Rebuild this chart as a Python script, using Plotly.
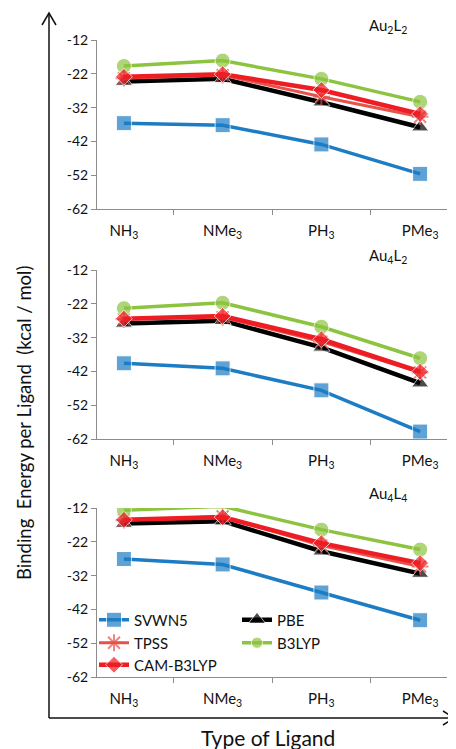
import plotly.graph_objects as go

W, H = 456, 749
OFF = 8  # page body margin offset of the rendered figure

ligands = ["NH<sub>3</sub>", "NMe<sub>3</sub>", "PH<sub>3</sub>", "PMe<sub>3</sub>"]
methods = ["SVWN5", "PBE", "TPSS", "B3LYP", "CAM-B3LYP"]
panel_titles = ["Au<sub>2</sub>L<sub>2</sub>", "Au<sub>4</sub>L<sub>2</sub>", "Au<sub>4</sub>L<sub>4</sub>"]

# Au2L2
au2l2_svwn5 = [-36.6, -37.2, -42.9, -51.6]
au2l2_pbe = [-24.3, -23.5, -30.4, -37.8]
au2l2_tpss = [-23.3, -22.4, -28.8, -34.7]
au2l2_b3lyp = [-19.7, -18.1, -23.5, -30.3]
au2l2_cam = [-22.9, -22.1, -26.8, -33.9]
# Au4L2
au4l2_svwn5 = [-39.6, -41.1, -47.6, -59.8]
au4l2_pbe = [-27.8, -27.0, -34.9, -45.5]
au4l2_tpss = [-26.6, -26.0, -33.2, -42.3]
au4l2_b3lyp = [-23.3, -21.7, -28.8, -38.1]
au4l2_cam = [-26.4, -25.6, -32.5, -42.1]
# Au4L4
au4l4_svwn5 = [-27.1, -28.7, -37.0, -45.2]
au4l4_pbe = [-16.6, -15.9, -24.8, -31.4]
au4l4_tpss = [-15.6, -14.5, -23.1, -29.3]
au4l4_b3lyp = [-12.7, -11.5, -18.4, -24.3]
au4l4_cam = [-15.5, -14.7, -22.4, -28.3]

y_ticks = [-62, -52, -42, -32, -22, -12]
y_min, y_max = -62, -12

panels = [
    [au2l2_svwn5, au2l2_pbe, au2l2_tpss, au2l2_b3lyp, au2l2_cam],
    [au4l2_svwn5, au4l2_pbe, au4l2_tpss, au4l2_b3lyp, au4l2_cam],
    [au4l4_svwn5, au4l4_pbe, au4l4_tpss, au4l4_b3lyp, au4l4_cam],
]

styles = {
    "SVWN5": dict(color="#1C7CC4", width=3.5, symbol="square", size=15, legend="legend"),
    "PBE": dict(color="#000000", width=4.5, symbol="triangle-up", size=15, legend="legend"),
    "TPSS": dict(color="#E5534B", width=3, symbol="asterisk-open", size=14, legend="legend2"),
    "B3LYP": dict(color="#8CC43F", width=3.5, symbol="circle", size=15, legend="legend2"),
    "CAM-B3LYP": dict(color="#EE1D23", width=4.5, symbol="diamond", size=13, legend="legend3"),
}

def px2x(px):
    return (px - OFF) / W

def px2y(py):
    return 1 - (py - OFF) / H

# panel pixel bounds (top, bottom) in screen pixels
bounds = [(40, 209), (270, 439), (508, 677)]
x_dom = [px2x(97), px2x(447)]

fig = go.Figure()
font = "Lato, 'Open Sans', sans-serif"

for i, series in enumerate(panels):
    yax = "y" if i == 0 else f"y{i+1}"
    xax = "x" if i == 0 else f"x{i+1}"
    for m, vals in zip(methods, series):
        s = styles[m]
        # points outside the axis range are not marked (as in the original chart)
        sizes = [s["size"] if y_min <= v <= y_max else 0 for v in vals]
        marker = dict(symbol=s["symbol"], size=sizes, color=s["color"])
        if s["symbol"] == "asterisk-open":
            marker["line"] = dict(color=s["color"], width=2)
        fig.add_trace(go.Scatter(
            x=ligands, y=vals, name=m, mode="lines+markers",
            line=dict(color=s["color"], width=s["width"]),
            marker=marker, xaxis=xax, yaxis=yax,
            legendgroup=m, showlegend=(i == 2), legend=s["legend"],
        ))

for i, (top, bot) in enumerate(bounds):
    suffix = "" if i == 0 else str(i + 1)
    fig.layout["xaxis" + suffix] = dict(
        domain=x_dom, anchor="y" + suffix, type="category",
        categoryorder="array", categoryarray=ligands,
        showline=True, linecolor="#8c8c8c", linewidth=1,
        ticks="outside", tickson="boundaries", ticklen=5, tickcolor="#8c8c8c",
        showgrid=False, zeroline=False, automargin=False,
        tickfont=dict(family=font, size=15, color="#111"), ticklabelstandoff=8,
        fixedrange=True,
    )
    fig.layout["yaxis" + suffix] = dict(
        domain=[px2y(bot), px2y(top)], anchor="x" + suffix,
        range=[y_min, y_max], tickvals=y_ticks, ticktext=[str(v) for v in y_ticks],
        showline=True, linecolor="#8c8c8c", linewidth=1,
        ticks="outside", ticklen=5, tickcolor="#8c8c8c",
        showgrid=False, zeroline=False, automargin=False,
        tickfont=dict(family=font, size=14, color="#111"),
        fixedrange=True,
    )
    fig.add_annotation(
        text=panel_titles[i], x=px2x(388), y=px2y(top - 14), xref="paper", yref="paper",
        showarrow=False, font=dict(family=font, size=15, color="#111"),
        xanchor="center", yanchor="middle",
    )

# axis titles
fig.add_annotation(
    text="Binding\u00a0 Energy per Ligand\u00a0 (kcal / mol)", x=px2x(24), y=px2y(582),
    xref="paper", yref="paper", showarrow=False, textangle=-90,
    font=dict(family=font, size=18.5, color="#111"), xanchor="center", yanchor="bottom",
)
fig.add_annotation(
    text="Type of Ligand", x=px2x(268), y=px2y(737), xref="paper", yref="paper",
    showarrow=False, font=dict(family=font, size=21, color="#111"),
    xanchor="center", yanchor="middle",
)

# arrows (decorations)
def path(points):
    return "M " + " L ".join(f"{px2x(a):.5f},{px2y(b):.5f}" for a, b in points)

line_style = dict(color="#111", width=1.5)
fig.add_shape(type="path", xref="paper", yref="paper", path=path([(49, 718), (49, 13)]), line=line_style)
fig.add_shape(type="path", xref="paper", yref="paper", path=path([(42, 25), (49, 13), (56, 25)]), line=line_style)
fig.add_shape(type="path", xref="paper", yref="paper", path=path([(49, 718), (454, 718)]), line=line_style)
fig.add_shape(type="path", xref="paper", yref="paper", path=path([(443, 711), (454, 718), (443, 725)]), line=line_style)

leg_common = dict(orientation="h", xanchor="left", yanchor="middle", bgcolor="rgba(0,0,0,0)",
                  entrywidth=98, entrywidthmode="pixels", itemwidth=30,
                  font=dict(family=font, size=15, color="#111"), tracegroupgap=0)
fig.update_layout(
    width=W, height=H, margin=dict(l=0, r=0, t=0, b=0, pad=0, autoexpand=False),
    paper_bgcolor="white", plot_bgcolor="white",
    legend=dict(x=px2x(94), y=px2y(620), **leg_common),
    legend2=dict(x=px2x(94), y=px2y(643), **leg_common),
    legend3=dict(x=px2x(94), y=px2y(665), **leg_common),
)

fig.write_html("out.html")
